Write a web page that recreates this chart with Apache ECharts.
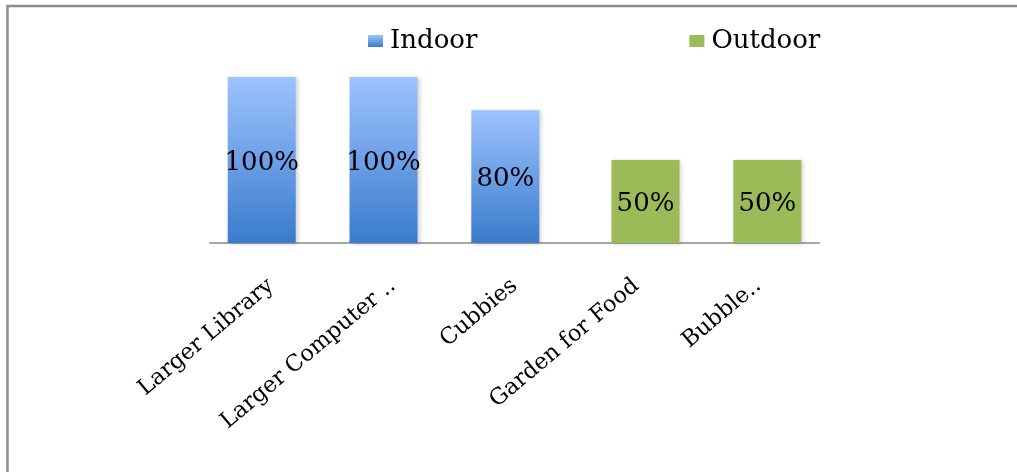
<!DOCTYPE html>
<html>
<head>
<meta charset="utf-8">
<script src="https://cdn.jsdelivr.net/npm/echarts@6/dist/echarts.min.js"></script>
<style>
  html, body { margin: 0; padding: 0; background: #fff; }
  #chart { width: 1017px; height: 472px; }
</style>
</head>
<body>
<div id="chart"></div>
<script>
// Facilities wished for, split by indoor / outdoor
const categories = ['Larger Library', 'Larger Computer ..', 'Cubbies', 'Garden for Food', 'Bubble..'];
const indoorValues = [100, 100, 80, null, null];
const outdoorValues = [null, null, null, 50, 50];
const seriesNames = ['Indoor', 'Outdoor'];

const FONT = '"DejaVu Serif", "Liberation Serif", serif';

const chart = echarts.init(document.getElementById('chart'));

const labelStyle = {
  show: true,
  position: 'inside',
  offset: [0, 3],
  formatter: '{c}%',
  color: '#000',
  fontFamily: FONT,
  fontSize: 26
};

const barShadow = {
  shadowColor: 'rgba(0,0,0,0.18)',
  shadowBlur: 4,
  shadowOffsetX: 2,
  shadowOffsetY: 1
};

chart.setOption({
  animation: false,
  backgroundColor: '#fff',
  graphic: [{
    type: 'rect',
    shape: { x: 7.5, y: 6, width: 1100, height: 600 },
    style: { fill: 'none', stroke: '#8c8c8c', lineWidth: 2.5 },
    silent: true
  }],
  legend: {
    left: 363,
    top: 23,
    itemWidth: 15,
    itemHeight: 12,
    itemGap: 212,
    icon: 'rect',
    data: seriesNames,
    textStyle: { fontFamily: FONT, fontSize: 26, color: '#000', padding: [0, 0, 0, 2] }
  },
  grid: { left: 210, right: 198, top: 77, bottom: 229, containLabel: false },
  xAxis: {
    type: 'category',
    data: categories,
    axisLine: { show: true, lineStyle: { color: '#a6a6a6', width: 2 } },
    axisTick: { show: false },
    axisLabel: {
      rotate: 40,
      interval: 0,
      margin: 40,
      color: '#000',
      fontFamily: FONT,
      fontSize: 22.5
    }
  },
  yAxis: {
    type: 'value',
    min: 0,
    max: 100,
    show: false,
    splitLine: { show: false }
  },
  series: [
    {
      name: seriesNames[0],
      type: 'bar',
      data: indoorValues,
      barWidth: 68,
      barGap: '-73%',
      itemStyle: Object.assign({
        color: new echarts.graphic.LinearGradient(0, 0, 0, 1, [
          { offset: 0, color: '#9DC3FF' },
          { offset: 0.5, color: '#6C9FE6' },
          { offset: 1, color: '#3A7BCB' }
        ])
      }, barShadow),
      label: labelStyle
    },
    {
      name: seriesNames[1],
      type: 'bar',
      data: outdoorValues,
      barWidth: 68,
      itemStyle: Object.assign({ color: '#9BBB59' }, barShadow),
      label: labelStyle
    }
  ]
});
</script>
</body>
</html>
